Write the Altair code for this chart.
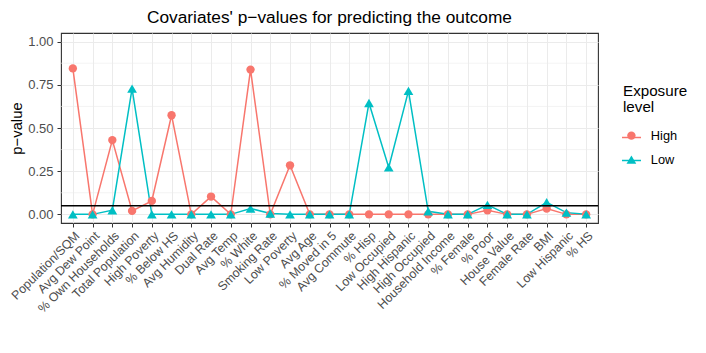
import altair as alt
import pandas as pd

cats = ["Population/SQM", "Avg Dew Point", "% Own Households", "Total Population",
        "High Poverty", "% Below HS", "Avg Humidity", "Dual Rate", "Avg Temp",
        "% White", "Smoking Rate", "Low Poverty", "Avg Age", "% Moved in 5",
        "Avg Commute", "% Hisp", "Low Occupied", "High Hispanic", "High Occupied",
        "Household Income", "% Female", "% Poor", "House Value", "Female Rate",
        "BMI", "Low Hispanic", "% HS"]
high = [0.845, 0.0, 0.43, 0.02, 0.078, 0.574, 0.0, 0.103, 0.0, 0.838, 0.0, 0.284,
        0.0, 0.0, 0.0, 0.0, 0.0, 0.0, 0.0, 0.0, 0.0, 0.024, 0.0, 0.0, 0.034, 0.0, 0.0]
low = [0.0, 0.0, 0.024, 0.728, 0.0, 0.0, 0.0, 0.0, 0.0, 0.034, 0.005, 0.0,
       0.0, 0.0, 0.0, 0.645, 0.272, 0.715, 0.018, 0.0, 0.0, 0.055, 0.0, 0.0,
       0.07, 0.01, 0.0]
groups = ["High", "Low"]
colors = ["#F8766D", "#00BFC4"]
threshold = [0.05]
minor_ticks = [0.125, 0.375, 0.625, 0.875]
major_ticks = [0, 0.25, 0.5, 0.75, 1.0]

rows = []
for c, h, l in zip(cats, high, low):
    rows.append({"Covariate": c, "p": h, "Exposure": "High"})
    rows.append({"Covariate": c, "p": l, "Exposure": "Low"})
df = pd.DataFrame(rows)

font = "Liberation Sans"

x_enc = alt.X("Covariate:N", sort=cats,
              scale=alt.Scale(type="point", padding=0.6),
              axis=alt.Axis(title=None, labelAngle=-45, labelAlign="right",
                            labelBaseline="top", labelFontSize=12.4,
                            labelColor="#4D4D4D", tickColor="#333333",
                            tickSize=4, domain=False, grid=True,
                            gridColor="#EBEBEB", labelPadding=2))
y_scale = alt.Scale(domain=[-0.05, 1.05], nice=False, zero=False)
y_enc = alt.Y("p:Q", scale=y_scale,
              axis=alt.Axis(title="p−value", values=major_ticks, format=".2f",
                            labelFontSize=13, labelColor="#4D4D4D",
                            labelPadding=4,
                            titleFontSize=14.8, titleFontWeight="normal",
                            titleColor="black", tickColor="#333333", tickSize=4,
                            domain=False, grid=True, gridColor="#EBEBEB",
                            titlePadding=3))
color_scale = alt.Scale(domain=groups, range=colors)

minor = alt.Chart(pd.DataFrame({"m": minor_ticks})).mark_rule(
    color="#EBEBEB", strokeWidth=0.6).encode(y=alt.Y("m:Q", scale=y_scale))

lines = alt.Chart(df).mark_line(strokeWidth=1.5).encode(
    x=x_enc, y=y_enc,
    color=alt.Color("Exposure:N", scale=color_scale,
                    legend=alt.Legend(title=None, orient="none", legendX=560,
                                      legendY=94, labelExpr="''",
                                      symbolType="stroke", symbolSize=361,
                                      symbolStrokeWidth=1.5, rowPadding=6,
                                      labelFontSize=12, symbolOpacity=1)),
    detail="Exposure:N")

legend_pts = alt.Legend(title=["Exposure", "\u00a0level"], orient="none",
                        legendX=562, legendY=51, titleFontSize=15.2,
                        titleLineHeight=16, titleFontWeight="normal",
                        titleColor="black", titleFont=font, labelFont=font,
                        labelFontSize=12.8, labelColor="black",
                        rowPadding=9, titlePadding=14, labelOffset=13,
                        symbolOffset=2, symbolOpacity=1)
points = alt.Chart(df).mark_point(filled=True, opacity=1).encode(
    x=x_enc, y=y_enc,
    color=alt.Color("Exposure:N", scale=color_scale, legend=legend_pts),
    shape=alt.Shape("Exposure:N",
                    scale=alt.Scale(domain=groups, range=["circle", "triangle-up"]),
                    legend=legend_pts),
    size=alt.Size("Exposure:N",
                  scale=alt.Scale(domain=groups, range=[70, 95]),
                  legend=legend_pts))

hline = alt.Chart(pd.DataFrame({"t": threshold})).mark_rule(
    color="black", strokeWidth=1.5).encode(y=alt.Y("t:Q", scale=y_scale))

chart = alt.layer(minor, lines, points, hline).resolve_legend(
    color="independent", shape="independent", size="independent").properties(
    width=537, height=190,
    autosize="none",
    padding={"left": 53, "top": 25, "right": 100, "bottom": 122},
    title=alt.Title("Covariates' p−values for predicting the outcome",
                    fontSize=17.3, fontWeight="normal", anchor="middle",
                    color="black", font=font, offset=7),
).configure(font=font).configure_view(stroke="#333333", strokeWidth=1.1)

chart.save("out.html", embed_options={"renderer": "svg", "actions": False})
